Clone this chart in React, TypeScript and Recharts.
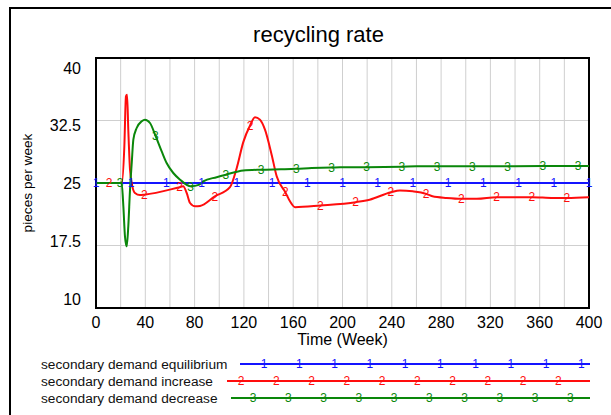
import { LineChart, Line, XAxis, YAxis, CartesianGrid, ReferenceArea, Label } from 'recharts';

const FONT = '"Liberation Sans", Arial, sans-serif';

const xTicks = [0, 20, 40, 60, 80, 100, 120, 140, 160, 180, 200, 220, 240, 260, 280, 300, 320, 340, 360, 380, 400];
const yTicks = [10, 17.5, 25, 32.5, 40];

const seriesNames = ['secondary demand equilibrium', 'secondary demand increase', 'secondary demand decrease'];
const seriesDigits = ['1', '2', '3'];
const seriesColors = ['#1414ff', '#ff0d0d', '#0a870a'];

// equilibrium: flat line, markers only
const equilibriumMarkTimes = [0, 28.57, 57.14, 85.71, 114.29, 142.86, 171.43, 200, 228.57, 257.14, 285.71, 314.29, 342.86, 371.43, 400];
const equilibriumMarkValues = [25, 25, 25, 25, 25, 25, 25, 25, 25, 25, 25, 25, 25, 25, 25];

// increase
const increaseTimes = [0, 21, 23, 24.3, 25.2, 26.2, 27.6, 29.5, 31.6, 35.7, 70.7, 73.6, 76.3, 80.5, 84.4, 108.7, 114.2, 119.5, 129, 133, 137.1, 142.5, 146.6, 157.4, 161.5, 222, 246.6, 257, 273, 284.5, 309, 371, 400];
const increaseValues = [25, 25, 29.4, 35.4, 35.6, 31.4, 26.6, 24.6, 23.8, 23.55, 24.6, 23.8, 22.6, 22.2, 22.25, 24.5, 26.8, 29.9, 32.9, 32.6, 31.4, 28.4, 25.8, 22.8, 22.1, 23.0, 24.1, 24.0, 23.4, 23.2, 23.1, 23.2, 23.3];
const increaseMarkTimes = [10.7, 39.3, 67.9, 96.4, 125, 153.6, 182.1, 210.7, 239.3, 267.9, 296.4, 325, 353.6, 382.1];
const increaseMarkValues = [25, 23.6, 24.5, 23.4, 31.9, 23.9, 22.3, 22.7, 23.9, 23.7, 23.1, 23.3, 23.3, 23.2];

// decrease
const decreaseTimes = [0, 20.8, 22.2, 23.5, 24.9, 26.2, 27.6, 29, 30.3, 33, 37.1, 39.7, 43.8, 53.3, 57.3, 62.7, 68.2, 84, 87, 97.9, 119.5, 150, 175, 198, 260, 400];
const decreaseValues = [25, 25, 22.2, 18.6, 17.4, 19.8, 24.2, 27.4, 30.2, 31.6, 32.4, 32.6, 32.2, 28.8, 27.4, 26.2, 25.4, 24.8, 25.2, 25.7, 26.5, 26.65, 26.8, 26.9, 27.0, 27.05];
const decreaseMarkTimes = [19.6, 48.2, 76.8, 105.4, 133.9, 162.5, 191.1, 219.6, 248.2, 276.8, 305.4, 333.9, 362.5, 391.1];
const decreaseMarkValues = [25, 30.7, 24.6, 26.0, 26.6, 26.7, 26.85, 26.9, 26.95, 27.0, 27.0, 27.0, 27.03, 27.05];

type Row = { t: number; v: number; mark: boolean };

const buildRows = (times: number[], values: number[], markTimes: number[], markValues: number[]): Row[] => {
  const rows: Row[] = times.map((t, i) => ({ t, v: values[i], mark: false }));
  markTimes.forEach((t, i) => rows.push({ t, v: markValues[i], mark: true }));
  return rows.sort((a, b) => a.t - b.t);
};

const seriesRows = [
  buildRows([], [], equilibriumMarkTimes, equilibriumMarkValues),
  buildRows(increaseTimes, increaseValues, increaseMarkTimes, increaseMarkValues),
  buildRows(decreaseTimes, decreaseValues, decreaseMarkTimes, decreaseMarkValues),
];

const markDot = (digit: string, color: string) => (props: any) => {
  const { cx, cy, payload, index } = props;
  if (!payload || !payload.mark) return <g key={index} />;
  return (
    <text key={index} x={cx} y={cy} dy="0.36em" textAnchor="middle" fontSize={12} fill={color} fontFamily={FONT}>
      {digit}
    </text>
  );
};

// Vensim-style y labels sit slightly inside the axis range
const YTick = (props: any) => {
  const { x, y, payload } = props;
  const shift = 10 - ((40 - payload.value) / 30) * 19;
  return (
    <text x={x} y={y + shift} dy="0.355em" textAnchor="end" fontSize={16} fill="#000" fontFamily={FONT}>
      {payload.value}
    </text>
  );
};

const XTick = (props: any) => {
  const { x, y, payload } = props;
  if (payload.value % 40 !== 0) return <g />;
  return (
    <text x={x} y={y} dy="0.72em" textAnchor="middle" fontSize={16} fill="#000" fontFamily={FONT}>
      {payload.value}
    </text>
  );
};

const legendRows = [
  { y: 364, start: 240, first: 264 },
  { y: 381, start: 227, first: 241 },
  { y: 398, start: 231, first: 253 },
];

const Legend = () => (
  <svg width={611} height={415} style={{ position: 'absolute', left: 0, top: 0, pointerEvents: 'none' }}>
    <line x1={10} y1={8} x2={10} y2={415} stroke="#000" strokeWidth={2} />
    <line x1={9} y1={8} x2={611} y2={8} stroke="#000" strokeWidth={2} />
    <text x={318.5} y={42} textAnchor="middle" fontSize={22} fill="#000" fontFamily={FONT}>
      recycling rate
    </text>
    {legendRows.map((r, i) => (
      <g key={i}>
        <text x={41} y={r.y} dy="0.36em" fontSize={13.7} fill="#111" fontFamily={FONT}>
          {seriesNames[i]}
        </text>
        <line x1={r.start} y1={r.y} x2={590} y2={r.y} stroke={seriesColors[i]} strokeWidth={2} />
        {Array.from({ length: 10 }, (_, k) => (
          <text key={k} x={r.first + k * 35.25} y={r.y} dy="0.36em" textAnchor="middle" fontSize={12} fill={seriesColors[i]} fontFamily={FONT}>
            {seriesDigits[i]}
          </text>
        ))}
      </g>
    ))}
  </svg>
);

export default function App() {
  return (
    <div style={{ position: 'absolute', left: 0, top: 0, width: 611, height: 415, background: '#fff' }}>
      <LineChart width={611} height={415} margin={{ top: 58, right: 22, bottom: 67, left: 16 }}>
        <CartesianGrid stroke="#cfcfcf" strokeWidth={1} />
        <XAxis
          dataKey="t"
          type="number"
          domain={[0, 400]}
          ticks={xTicks}
          interval={0}
          height={40}
          tickSize={0}
          tickMargin={8}
          axisLine={false}
          tick={<XTick />}
        >
          <Label value="Time (Week)" position="insideTop" offset={26} style={{ fontSize: 16, fill: '#000', fontFamily: FONT }} />
        </XAxis>
        <YAxis
          type="number"
          domain={[10, 40]}
          ticks={yTicks}
          interval={0}
          width={80}
          tickSize={0}
          tickMargin={15}
          axisLine={false}
          tick={<YTick />}
        >
          <Label
            value="pieces per week"
            angle={-90}
            position="insideLeft"
            offset={0}
            dx={11}
            style={{ fontSize: 13.7, fill: '#000', fontFamily: FONT, textAnchor: 'middle' }}
          />
        </YAxis>
        <ReferenceArea x1={0} x2={400} y1={10} y2={40} fill="none" stroke="#000" strokeWidth={2} />
        {seriesRows.map((rows, i) => (
          <Line
            key={seriesNames[i]}
            data={rows}
            dataKey="v"
            name={seriesNames[i]}
            type="monotone"
            stroke={seriesColors[i]}
            strokeWidth={2}
            dot={markDot(seriesDigits[i], seriesColors[i])}
            activeDot={false}
            isAnimationActive={false}
          />
        ))}
      </LineChart>
      <Legend />
    </div>
  );
}
